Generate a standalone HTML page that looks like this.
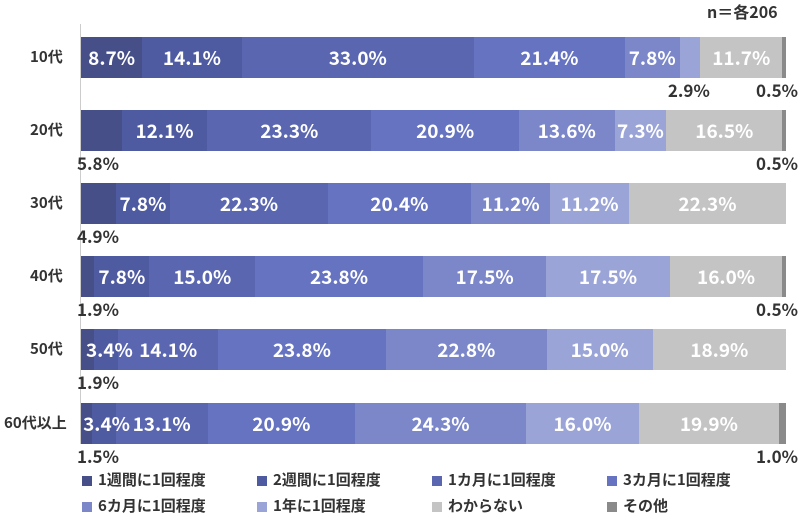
<!DOCTYPE html><html><head><meta charset="utf-8"><style>
body{margin:0;width:800px;height:515px;background:#fff;font-family:"Noto Sans CJK JP","Liberation Sans",sans-serif;position:relative;overflow:hidden}
.a{position:absolute;white-space:nowrap}
.seg{position:absolute}
.tx{position:absolute;color:#fff;font-weight:bold;font-size:19px;display:flex;align-items:center;justify-content:center;white-space:nowrap;z-index:2}
.lab{position:absolute;font-size:15px;color:#333;font-weight:bold}
.out{position:absolute;font-size:17px;color:#333;font-weight:bold;white-space:nowrap}
.lg{position:absolute;font-size:15px;color:#333;font-weight:bold;white-space:nowrap}
.lg i{display:inline-block;width:10px;height:10px;margin-right:6px;vertical-align:-1px}
</style></head><body>
<div class="a" style="left:80px;top:24px;width:1px;height:420px;background:#ccc"></div>
<div class="a" style="left:707px;top:-1px;font-size:16px;font-weight:bold;color:#333">n＝各206</div>
<div id="c"></div>
<script>
const cols=["#464f88","#4f5ba0","#5a67b0","#6573c0","#7b87c9","#9ba4d7","#c4c4c4","#8a8a8a"];
const rows=[["10代",[8.7,14.1,33.0,21.4,7.8,2.9,11.7,0.5]],["20代",[5.8,12.1,23.3,20.9,13.6,7.3,16.5,0.5]],["30代",[4.9,7.8,22.3,20.4,11.2,11.2,22.3,0]],["40代",[1.9,7.8,15.0,23.8,17.5,17.5,16.0,0.5]],["50代",[1.9,3.4,14.1,23.8,22.8,15.0,18.9,0]],["60代以上",[1.5,3.4,13.1,20.9,24.3,16.0,19.9,1.0]]];
let h="";const X0=81,W=705;
rows.forEach((r,i)=>{const top=36.5+i*73.2;const s=r[1].reduce((a,b)=>a+b);let x=X0;
h+=`<div class="lab" style="left:${i==5?4:30}px;top:${top+9}px">${r[0]}</div>`;
r[1].forEach((v,j)=>{if(!v)return;const w=v/s*W;
let txt=v.toFixed(1)+"%";
let outside=(j==7)||(j==0&&v<7)||(j==5&&v<4);
h+=`<div class="seg" style="left:${x}px;top:${top}px;width:${w+0.5}px;height:41px;background:${cols[j]}"></div>`;
if(!outside){let cx=x+w/2;if(v<4)cx=x+w/2+3;h+=`<div class="tx" style="left:${cx-50}px;top:${top}px;width:100px;height:41px">${txt}</div>`}
else{if(j==7){h+=`<div class="out" style="right:2px;top:${top+40}px">${txt}</div>`}
else if(j==0){h+=`<div class="out" style="left:${X0-4}px;top:${top+40}px">${txt}</div>`}
else{h+=`<div class="out" style="left:${x+w/2-22}px;top:${top+40}px">${txt}</div>`}}
x+=w;});});
const L=["1週間に1回程度","2週間に1回程度","1カ月に1回程度","3カ月に1回程度","6カ月に1回程度","1年に1回程度","わからない","その他"];
L.forEach((t,k)=>{h+=`<div class="lg" style="left:${82+(k%4)*175}px;top:${k<4?469:495}px"><i style="background:${cols[k]}"></i>${t}</div>`});
document.getElementById("c").innerHTML=h;
</script></body></html>
